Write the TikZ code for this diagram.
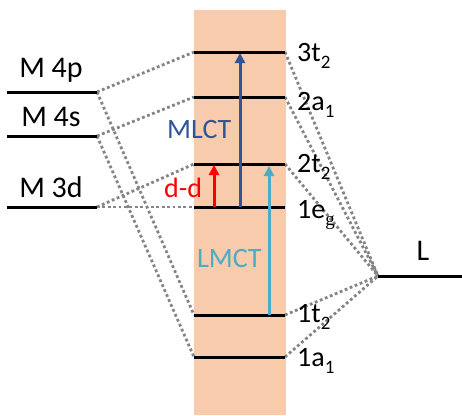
\documentclass[tikz,border=0pt]{standalone}
\usepackage{fontspec}
\setmainfont{Carlito}
\newfontfamily\serifg{Liberation Serif}
\usetikzlibrary{arrows.meta}
\definecolor{bandfill}{HTML}{F8CBAD}
\definecolor{dotgray}{HTML}{858585}
\definecolor{mlctblue}{HTML}{2F5597}
\definecolor{lmctblue}{HTML}{4BACC6}
\newcommand{\sbs}[1]{\raisebox{-7pt}{\fontsize{19}{20}\selectfont #1}}
\tikzset{
  level/.style={line width=3pt, black},
  corr/.style={line width=2.8pt, dotgray, dash pattern=on 2.8pt off 2.6pt},
  trans/.style={line width=3pt, -{Triangle[width=10pt,length=10pt]}},
  lbl/.style={font=\fontsize{28}{34}\selectfont, inner sep=0pt},
  mlbl/.style={font=\fontsize{30}{36}\selectfont, inner sep=0pt, anchor=base},
}
\begin{document}
\begin{tikzpicture}[x=1pt,y=-1pt]
\useasboundingbox (0,0) rectangle (462,415);
\fill[bandfill] (194,10) rectangle (286,415);
% level endpoints
\coordinate (p4L) at (7,92);   \coordinate (p4R) at (97,92);
\coordinate (s4L) at (7,136);  \coordinate (s4R) at (97,136);
\coordinate (d3L) at (7,207);  \coordinate (d3R) at (97,207);
\coordinate (t3L) at (194,52);  \coordinate (t3R) at (285,52);
\coordinate (a2L) at (194,97);  \coordinate (a2R) at (285,97);
\coordinate (t2L) at (194,164); \coordinate (t2R) at (285,164);
\coordinate (egL) at (194,207); \coordinate (egR) at (285,207);
\coordinate (t1L) at (194,315); \coordinate (t1R) at (285,315);
\coordinate (a1L) at (194,357); \coordinate (a1R) at (285,357);
\coordinate (LL) at (378,276);  \coordinate (LR) at (462,276);
% correlation lines
\draw[corr] (p4R) -- (t3L);
\draw[corr] (p4R) -- (t1L);
\draw[corr] (s4R) -- (a2L);
\draw[corr] (s4R) -- (a1L);
\draw[corr] (d3R) -- (t2L);
\draw[corr] (d3R) -- (egL);
\draw[corr] (t3R) -- (LL);
\draw[corr] (a2R) -- (LL);
\draw[corr] (t2R) -- (LL);
\draw[corr] (t1R) -- (LL);
\draw[corr] (a1R) -- (LL);
% levels
\foreach \n in {p4,s4,d3,t3,a2,t2,eg,t1,a1,L}
  \draw[level] (\n L) -- (\n R);
% transitions
\coordinate (rdS) at (214,207); \coordinate (rdE) at (214,165);
\coordinate (mlS) at (240,207); \coordinate (mlE) at (240,53);
\coordinate (lmS) at (269,315); \coordinate (lmE) at (269,166);
\draw[trans, red] (rdS) -- (rdE);
\draw[trans, mlctblue] (mlS) -- (mlE);
\draw[trans, lmctblue] (lmS) -- (lmE);
% labels
\node[mlbl] (m4p) at (51,77) {M 4p};
\node[mlbl] (m4s) at (51,126) {M 4s};
\node[mlbl] (m3d) at (51,197) {M 3d};
\node[mlbl] (lig) at (423,260) {L};
\node[lbl, anchor=base west] (l3t2) at (297,61) {3t\sbs{2}};
\node[lbl, anchor=base west] (l2a1) at (297,110) {2a\sbs{1}};
\node[lbl, anchor=base west] (l2t2) at (297,172) {2t\sbs{2}};
\node[lbl, anchor=base west] (l1eg) at (297,218) {1e\sbs{\serifg g}};
\node[lbl, anchor=base west] (l1t2) at (297,322) {1t\sbs{2}};
\node[lbl, anchor=base west] (l1a1) at (297,366) {1a\sbs{1}};
\node[lbl, anchor=base west, text=mlctblue] (tml) at (167,138) {MLCT};
\node[lbl, anchor=base west, text=lmctblue] (tlm) at (197,267) {LMCT};
\node[lbl, anchor=base west, text=red] (tdd) at (164,197) {d-d};
\end{tikzpicture}
\end{document}
